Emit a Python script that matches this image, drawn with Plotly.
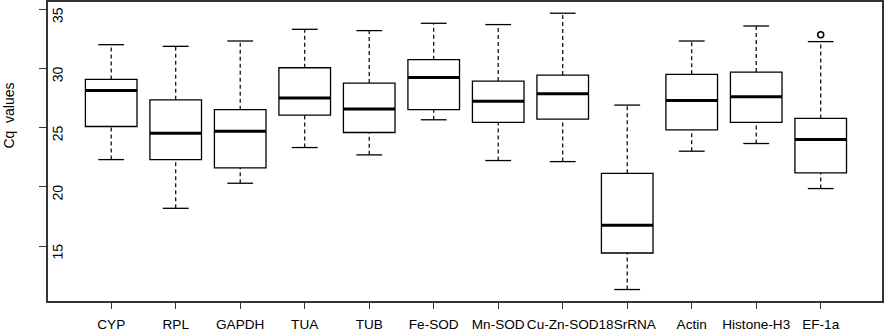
import plotly.graph_objects as go

categories = ["CYP", "RPL", "GAPDH", "TUA", "TUB", "Fe-SOD", "Mn-SOD",
              "Cu-Zn-SOD", "18SrRNA", "Actin", "Histone-H3", "EF-1a"]
lower = [22.31, 18.19, 20.31, 23.33, 22.71, 25.68, 22.23, 22.14, 11.32, 23.02, 23.67, 19.86]
q1 = [25.11, 22.31, 21.61, 26.07, 24.60, 26.53, 25.45, 25.73, 14.41, 24.83, 25.45, 21.19]
median = [28.16, 24.54, 24.71, 27.51, 26.58, 29.26, 27.25, 27.88, 16.75, 27.31, 27.63, 24.01]
q3 = [29.09, 27.37, 26.53, 30.08, 28.78, 30.76, 28.95, 29.46, 21.15, 29.52, 29.71, 25.79]
upper = [32.03, 31.89, 32.34, 33.33, 33.22, 33.84, 33.73, 34.69, 26.92, 32.34, 33.61, 32.29]
outlier_cat = ["EF-1a"]
outlier_val = [32.88]
yticks = [15, 20, 25, 30, 35]

pos = list(range(1, len(categories) + 1))
boxw = 0.8
capw = 0.4

fig = go.Figure()

# whiskers (dashed)
wx, wy = [], []
for p, lo, a, b, hi in zip(pos, lower, q1, q3, upper):
    wx += [p, p, None, p, p, None]
    wy += [lo, a, None, b, hi, None]
fig.add_trace(go.Scatter(x=wx, y=wy, mode="lines",
                         line=dict(color="black", width=1.2, dash="4px,3px"),
                         hoverinfo="skip", showlegend=False))
# staples
sx, sy = [], []
for p, lo, hi in zip(pos, lower, upper):
    sx += [p - capw / 2, p + capw / 2, None, p - capw / 2, p + capw / 2, None]
    sy += [lo, lo, None, hi, hi, None]
fig.add_trace(go.Scatter(x=sx, y=sy, mode="lines",
                         line=dict(color="black", width=1.3),
                         hoverinfo="skip", showlegend=False))

# boxes
fig.add_trace(go.Box(x=pos, q1=q1, median=median, q3=q3,
                     lowerfence=q1, upperfence=q3, width=boxw,
                     fillcolor="white", line=dict(color="black", width=1.3),
                     whiskerwidth=0, boxpoints=False, showlegend=False))

# thick medians
mx, my = [], []
for p, m in zip(pos, median):
    mx += [p - boxw / 2, p + boxw / 2, None]
    my += [m, m, None]
fig.add_trace(go.Scatter(x=mx, y=my, mode="lines",
                         line=dict(color="black", width=3),
                         hoverinfo="skip", showlegend=False))

# outliers
fig.add_trace(go.Scatter(x=[categories.index(c) + 1 for c in outlier_cat], y=outlier_val,
                         mode="markers",
                         marker=dict(symbol="circle-open", size=6, color="black",
                                     line=dict(width=1.5)),
                         hoverinfo="skip", showlegend=False))

fig.update_layout(
    width=886, height=332,
    margin=dict(l=48, r=4, t=2, b=31, autoexpand=False),
    paper_bgcolor="white", plot_bgcolor="white",
    font=dict(family="Liberation Sans, Arial, sans-serif", size=14, color="black"),
    xaxis=dict(range=[0.02, 12.95], tickvals=pos, ticktext=categories,
               showgrid=False, zeroline=False, showline=True, mirror=True,
               linecolor="#333", linewidth=1.5, ticks="outside", ticklen=6,
               tickcolor="#333", tickwidth=1, ticklabelstandoff=4, tickangle=0,
               automargin=False, tickfont=dict(size=13.6)),
    yaxis=dict(range=[10.35, 35.64], tickvals=yticks,
               showgrid=False, zeroline=False, showline=True, mirror=True,
               linecolor="#333", linewidth=1.5, ticks="outside", ticklen=7,
               tickcolor="#333", tickwidth=1, tickangle=-89.9,
               ticklabelstandoff=-19,
               automargin=False, tickfont=dict(size=14)),
    annotations=[dict(text="Cq\u00a0 values", textangle=-90, xref="paper", yref="paper",
                      x=-48 / 834 + 9 / 834, y=0.62, xanchor="center", yanchor="middle",
                      showarrow=False, font=dict(size=14))],
)

fig.write_html("out.html", config={"displayModeBar": False},
               post_script="document.body.style.margin='0';")
